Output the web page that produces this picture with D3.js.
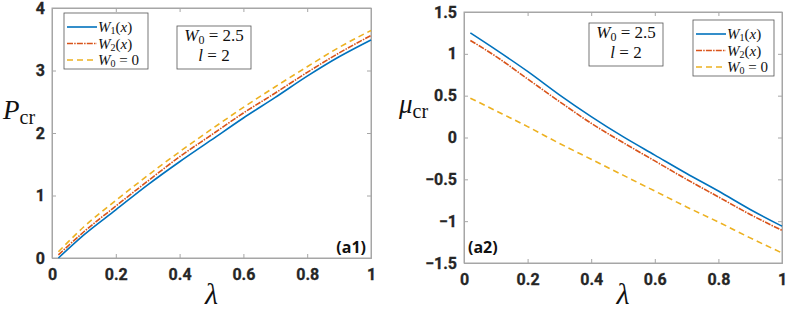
<!DOCTYPE html>
<html>
<head>
<meta charset="utf-8">
<script src="https://cdn.jsdelivr.net/npm/d3@7"></script>
<style>
  body { margin: 0; background: #fff; }
</style>
</head>
<body>
<svg id="plt"></svg>
<script>
// lambda samples shared by both panels
const lambda = [0.02, 0.1, 0.2, 0.3, 0.4, 0.5, 0.6, 0.7, 0.8, 0.9, 1.0];

// (a1) critical power
const pW1 = [0.00, 0.37, 0.77, 1.17, 1.54, 1.89, 2.24, 2.57, 2.91, 3.22, 3.49];
const pW2 = [0.05, 0.42, 0.83, 1.23, 1.62, 1.97, 2.32, 2.64, 2.97, 3.28, 3.56];
const pW0 = [0.10, 0.50, 0.92, 1.32, 1.70, 2.06, 2.41, 2.74, 3.06, 3.37, 3.64];

// (a2) critical chemical potential
const mW1 = [1.25, 1.05, 0.79, 0.51, 0.25, 0.01, -0.21, -0.43, -0.64, -0.86, -1.06];
const mW2 = [1.16, 0.97, 0.70, 0.43, 0.17, -0.06, -0.28, -0.50, -0.71, -0.92, -1.11];
const mW0 = [0.47, 0.32, 0.13, -0.07, -0.26, -0.45, -0.64, -0.83, -1.01, -1.20, -1.38];

const xTicks = [0, 0.2, 0.4, 0.6, 0.8, 1];
const pTicks = [0, 1, 2, 3, 4];
const mTicks = [-1.5, -1, -0.5, 0, 0.5, 1, 1.5];

const colors = { w1: "#0072BD", w2: "#D95319", w0: "#EDB120" };
const dashes = { w1: null, w2: "6,1.2,1.5,1.2", w0: "6,4" };
const serif = "'Liberation Serif', 'Times New Roman', serif";
const sans = "Roboto, 'Liberation Sans', Arial, sans-serif";

const svg = d3.select("#plt")
    .attr("width", 795)
    .attr("height", 309);

function drawPanel(opt) {
    let x = d3.scaleLinear().domain([0, 1]).range([opt.left, opt.right]);
    let y = d3.scaleLinear().domain(opt.yDomain).range([opt.bottom, opt.top]);
    let g = svg.append("g");

    // box
    g.append("rect")
        .attr("x", opt.left).attr("y", opt.top)
        .attr("width", opt.right - opt.left).attr("height", opt.bottom - opt.top)
        .attr("fill", "none").attr("stroke", "#a6a6a6").attr("stroke-width", 1);

    // axes with inward ticks
    let ax = g.append("g")
        .attr("transform", "translate(0," + opt.bottom + ")")
        .call(d3.axisBottom(x).tickValues(xTicks).tickSize(-4).tickPadding(9).tickFormat(d3.format("")));
    let ay = g.append("g")
        .attr("transform", "translate(" + opt.left + ",0)")
        .call(d3.axisLeft(y).tickValues(opt.yTicks).tickSize(-4).tickPadding(7).tickFormat(d3.format("")));
    g.append("g")
        .attr("transform", "translate(0," + opt.top + ")")
        .call(d3.axisTop(x).tickValues(xTicks).tickSize(-4).tickFormat(""));
    g.append("g")
        .attr("transform", "translate(" + opt.right + ",0)")
        .call(d3.axisRight(y).tickValues(opt.yTicks).tickSize(-4).tickFormat(""));
    g.selectAll(".domain").attr("stroke", "#a6a6a6");
    g.selectAll(".tick line").attr("stroke", "#a6a6a6");
    g.selectAll(".tick text")
        .attr("font-family", sans).attr("font-weight", "bold")
        .attr("font-size", 16).attr("fill", "#262626")
        .attr("stroke", "#262626").attr("stroke-width", 0.3);
    ax.selectAll("text").attr("dy", "0.8em");

    // curves
    let line = d3.line()
        .x((d, i) => x(lambda[i]))
        .y(d => y(d))
        .curve(d3.curveMonotoneX);
    ["w1", "w2", "w0"].forEach(function (k) {
        g.append("path")
            .datum(opt.series[k])
            .attr("d", line)
            .attr("fill", "none")
            .attr("stroke", colors[k])
            .attr("stroke-width", 1.6)
            .attr("stroke-dasharray", dashes[k]);
    });

    // y label
    let yl = g.append("text").attr("font-family", serif).attr("fill", "#111")
        .attr("x", opt.yLabelX).attr("y", opt.yLabelY);
    yl.append("tspan").attr("font-style", "italic").attr("font-size", 27).text(opt.yLabel);
    yl.append("tspan").attr("font-size", 20).attr("dy", 5).text("cr");

    // x label
    g.append("text").attr("font-family", serif).attr("fill", "#111")
        .attr("x", (opt.left + opt.right) / 2).attr("y", 304)
        .attr("text-anchor", "middle")
        .attr("font-style", "italic").attr("font-size", 30)
        .text("λ");

    // panel tag
    g.append("text")
        .attr("x", opt.tagX).attr("y", 253)
        .attr("text-anchor", opt.tagAnchor)
        .attr("font-family", "'Open Sans', sans-serif")
        .attr("font-weight", "bold").attr("font-size", 16)
        .attr("fill", "#111")
        .text(opt.tag);

    // parameter box
    let pb = opt.paramBox;
    g.append("rect")
        .attr("x", pb.x).attr("y", pb.y).attr("width", 74).attr("height", 43)
        .attr("fill", "#fff").attr("stroke", "#555").attr("stroke-width", 0.8);
    let t1 = g.append("text").attr("font-family", serif).attr("fill", "#111").attr("font-size", 17)
        .attr("x", pb.x + 37).attr("y", pb.y + 15).attr("text-anchor", "middle");
    t1.append("tspan").attr("font-style", "italic").text("W");
    t1.append("tspan").attr("font-size", 12).attr("dy", 3).text("0");
    t1.append("tspan").attr("dy", -3).text(" = 2.5");
    let t2 = g.append("text").attr("font-family", serif).attr("fill", "#111").attr("font-size", 17)
        .attr("x", pb.x + 37).attr("y", pb.y + 35).attr("text-anchor", "middle");
    t2.append("tspan").attr("font-style", "italic").text("l");
    t2.append("tspan").text(" = 2");

    // legend
    let lg = opt.legend;
    g.append("rect")
        .attr("x", lg.x).attr("y", lg.y).attr("width", lg.w).attr("height", 56)
        .attr("fill", "#fff").attr("stroke", "#555").attr("stroke-width", 0.8);
    let labels = [
        { k: "w1", sub: "1", tail: "(x)" },
        { k: "w2", sub: "2", tail: "(x)" },
        { k: "w0", sub: "0", tail: " = 0" }
    ];
    labels.forEach(function (e, i) {
        let cy = lg.y + 14 + i * 16.5;
        g.append("line")
            .attr("x1", lg.x + 3).attr("x2", lg.x + 33)
            .attr("y1", cy).attr("y2", cy)
            .attr("stroke", colors[e.k]).attr("stroke-width", 1.6)
            .attr("stroke-dasharray", dashes[e.k]);
        let t = g.append("text").attr("font-family", serif).attr("fill", "#111").attr("font-size", 15)
            .attr("x", lg.x + 34).attr("y", cy + 5);
        t.append("tspan").attr("font-style", "italic").text("W");
        t.append("tspan").attr("font-size", 10).attr("dy", 2).text(e.sub);
        if (e.tail === "(x)") {
            t.append("tspan").attr("dy", -2).text("(");
            t.append("tspan").attr("font-style", "italic").text("x");
            t.append("tspan").text(")");
        } else {
            t.append("tspan").attr("dy", -2).text(e.tail);
        }
    });
}

drawPanel({
    left: 52, right: 371, top: 8, bottom: 258,
    yDomain: [0, 4], yTicks: pTicks,
    series: { w1: pW1, w2: pW2, w0: pW0 },
    yLabel: "P", yLabelX: 3, yLabelY: 119,
    tag: "(a1)", tagX: 366, tagAnchor: "end",
    paramBox: { x: 177, y: 26 },
    legend: { x: 64, y: 13, w: 84 }
});

drawPanel({
    left: 464, right: 782, top: 12, bottom: 263,
    yDomain: [-1.5, 1.5], yTicks: mTicks,
    series: { w1: mW1, w2: mW2, w0: mW0 },
    yLabel: "μ", yLabelX: 399, yLabelY: 113,
    tag: "(a2)", tagX: 468, tagAnchor: "start",
    paramBox: { x: 589, y: 23 },
    legend: { x: 693, y: 20, w: 81 }
});
</script>
</body>
</html>
